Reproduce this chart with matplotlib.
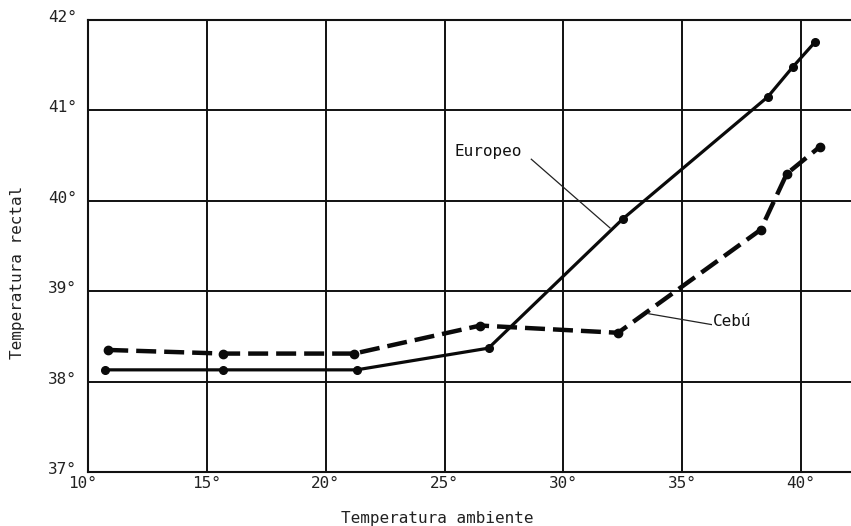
import matplotlib
matplotlib.use("Agg")
import matplotlib.pyplot as plt
import matplotlib.transforms as mtransforms

# Data
europeo_x = [10.7, 15.7, 21.3, 26.85, 32.5, 38.6, 39.65, 40.6]
europeo_y = [38.13, 38.13, 38.13, 38.37, 39.80, 41.15, 41.48, 41.76]

cebu_x = [10.85, 15.7, 21.2, 26.5, 32.3, 38.3, 39.4, 40.8]
cebu_y = [38.35, 38.31, 38.31, 38.62, 38.54, 39.68, 40.30, 40.60]

x_ticks = [10, 15, 20, 25, 30, 35, 40]
x_ticklabels = ["10°", "15°", "20°", "25°", "30°", "35°", "40°"]
y_ticks = [37, 38, 39, 40, 41, 42]
y_ticklabels = ["37°", "38°", "39°", "40°", "41°", "42°"]

FONT = "DejaVu Sans Mono"
W, H = 851, 526
fig = plt.figure(figsize=(W / 100, H / 100), dpi=100)
ax = fig.add_axes([88 / W, (H - 472) / H, (W - 88) / W, (472 - 20) / H])

ax.set_xlim(10, 42.1)
ax.set_ylim(37, 42)

ax.spines["right"].set_visible(False)
for s in ["left", "bottom", "top"]:
    ax.spines[s].set_linewidth(1.5)
    ax.spines[s].set_color("#111111")

ax.set_xticks(x_ticks)
ax.set_yticks(y_ticks)
ax.set_xticklabels(x_ticklabels, fontfamily=FONT, fontsize=11.5, color="#222222")
ax.set_yticklabels(y_ticklabels, fontfamily=FONT, fontsize=11.5, color="#222222")
ax.tick_params(axis="both", length=0)
ax.tick_params(axis="x", pad=3)
ax.tick_params(axis="y", pad=8)

up = mtransforms.ScaledTranslation(0, 4 / 100, fig.dpi_scale_trans)
for lbl in ax.get_yticklabels():
    lbl.set_transform(lbl.get_transform() + up)
left = mtransforms.ScaledTranslation(-6 / 100, 0, fig.dpi_scale_trans)
first = ax.get_xticklabels()[0]
first.set_transform(first.get_transform() + left)

ax.grid(True, color="#111111", linewidth=1.4)
ax.set_axisbelow(True)

ax.plot(europeo_x, europeo_y, color="#0a0a0a", linewidth=2.3, marker="o",
        markersize=5.5, solid_capstyle="round", zorder=3)
ax.plot(cebu_x, cebu_y, color="#0a0a0a", linewidth=3.2, linestyle=(0, (4.5, 1.8)),
        marker="o", markersize=6, zorder=3)

# Annotations
ax.text(25.4, 40.54, "Europeo", fontfamily=FONT, fontsize=11.5, color="#111111",
        ha="left", va="center", zorder=4,
        bbox=dict(facecolor="white", edgecolor="none", pad=0.5))
ax.plot([28.65, 31.96], [40.46, 39.70], color="#222222", linewidth=0.9, zorder=2)

ax.text(36.3, 38.66, "Cebú", fontfamily=FONT, fontsize=11.5, color="#111111",
        ha="left", va="center", zorder=4,
        bbox=dict(facecolor="white", edgecolor="none", pad=0.5))
ax.plot([36.25, 33.6], [38.63, 38.75], color="#222222", linewidth=0.9, zorder=2)

fig.text(18 / W, 1 - 272 / H, "Temperatura rectal", rotation=90, fontfamily=FONT,
         fontsize=11.5, color="#222222", ha="center", va="center")
fig.text(437 / W, 1 - 519 / H, "Temperatura ambiente", fontfamily=FONT,
         fontsize=11.5, color="#222222", ha="center", va="center")

fig.savefig("out.png", dpi=100)
